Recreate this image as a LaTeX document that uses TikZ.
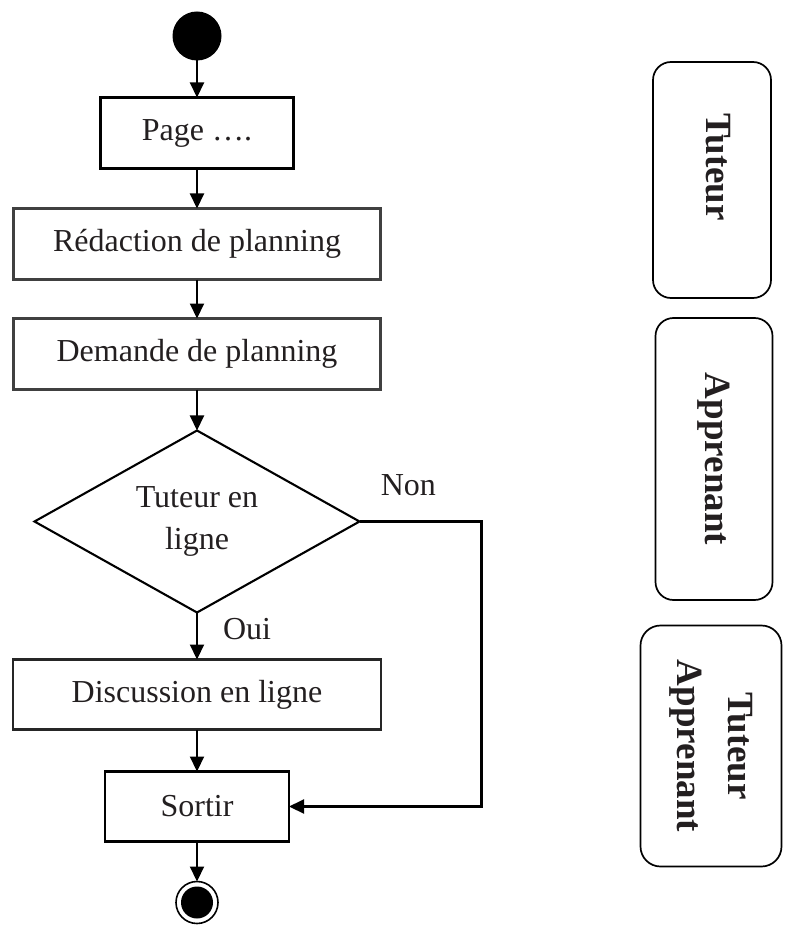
\documentclass[tikz,border=0pt]{standalone}
\usepackage{fontspec}
\setmainfont{Liberation Serif}
\usetikzlibrary{positioning,arrows.meta,shapes.geometric}
\definecolor{ink}{RGB}{35,31,32}

\begin{document}
\begin{tikzpicture}[
  x=1pt, y=1pt,
  every node/.style={font=\fontsize{32}{42}\selectfont, text=ink, inner sep=3pt},
  act/.style={rectangle,draw,line width=2.1pt,minimum height=71pt,align=center,inner sep=0pt,outer sep=0pt},
  dec/.style={diamond,draw,line width=2.1pt,minimum width=325pt,minimum height=182pt,aspect=1.8,inner sep=0pt,outer sep=0pt,align=center},
  initst/.style={circle,fill=black,minimum size=49pt,inner sep=0pt,outer sep=0pt},
  endst/.style={circle,draw,line width=1.6pt,minimum size=42pt,inner sep=0pt,outer sep=0pt,
    path picture={\fill[black] (path picture bounding box.center) circle (16pt);}},
  lane/.style={rectangle,draw,rounded corners=18pt,line width=1.7pt,rotate=-90,align=center,
    font=\fontsize{37}{51}\selectfont\bfseries},
  arr/.style={-{Triangle[length=15pt,width=14pt]},line width=2.1pt}
]
\useasboundingbox (0,0) rectangle (784,-925);

% activity flow
\node[initst] (start) at (197,-36) {};
\node[act, minimum width=193pt, below=37pt of start] (page) {Page \dots.};
\node[act, minimum width=367pt, draw=black!75, below=40pt of page] (redac) {Rédaction de planning};
\node[act, minimum width=367pt, draw=black!75, below=39pt of redac] (demande) {Demande de planning};
\node[dec, below=41pt of demande] (enligne) {Tuteur en\\ligne};
\node[act, minimum width=368pt, minimum height=70pt, draw=black!85, below=47pt of enligne] (discu) {Discussion en ligne};
\node[act, minimum width=184pt, minimum height=70pt, below=42pt of discu] (sortir) {Sortir};
\node[endst, below=40pt of sortir] (fin) {};

\draw[arr] (start) -- (page);
\draw[arr] (page) -- (redac);
\draw[arr] (redac) -- (demande);
\draw[arr] (demande) -- (enligne);
\draw[arr] (enligne) -- node[right=22pt, yshift=6.5pt]{Oui} (discu);
\draw[arr] (discu) -- (sortir);
\draw[arr] (sortir) -- (fin);
\draw[arr] (enligne.east) -- node[above=22pt, pos=0.4]{Non} ++(122,0) |- (sortir.east);

% actors
\node[lane, minimum width=236pt, minimum height=118pt] (tut) at (712,-180) {\raisebox{13pt}{Tuteur\kern26pt}};
\node[lane, minimum width=282pt, minimum height=117pt] (app) at (714,-459) {\raisebox{7pt}{Apprenant}};
\node[lane, minimum width=241pt, minimum height=141pt, rounded corners=20pt] (both) at (711,-746) {Tuteur\\Apprenant};
\end{tikzpicture}
\end{document}
